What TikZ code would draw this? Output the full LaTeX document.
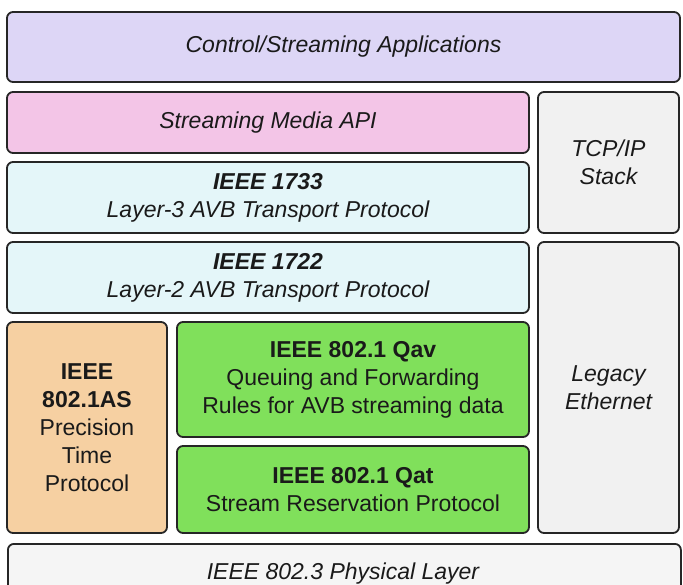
\documentclass[tikz,border=0pt]{standalone}
\usepackage{fontspec}
\setmainfont{Liberation Sans}
\definecolor{cLav}{HTML}{DDD6F6}
\definecolor{cPink}{HTML}{F3C5E7}
\definecolor{cBlue}{HTML}{E4F6F9}
\definecolor{cGrey}{HTML}{F1F1F1}
\definecolor{cOrange}{HTML}{F6D0A2}
\definecolor{cGreen}{HTML}{80E05B}
\definecolor{cLine}{HTML}{262626}
\definecolor{cText}{HTML}{1A1A1A}
\tikzset{
  layer/.style={draw=cLine, line width=1.8pt, rounded corners=6pt, align=center,
    text=cText, inner sep=0pt,
    font=\fontsize{23}{28}\selectfont},
}
\newcommand{\boxat}[7]{% name, x1, y1, x2, y2, fill, text
  \node[layer, fill=#6, minimum width={#4-#2}, minimum height={#5-#3}] (#1) at ({(#2+#4)/2},{(#3+#5)/2}) {#7};}
\begin{document}
\begin{tikzpicture}[x=1pt,y=-1pt]
\useasboundingbox (0,0) rectangle (683,584);
\clip (0,0) rectangle (683,584);
\boxat{apps}{7}{12}{680}{82}{cLav}{\itshape Control/Streaming Applications}
\boxat{api}{7}{92}{529}{153}{cPink}{\itshape Streaming Media API}
\boxat{tcp}{538}{92}{679}{233}{cGrey}{\itshape TCP/IP\\\itshape Stack}
\boxat{l3}{7}{162}{529}{233}{cBlue}{\bfseries\itshape IEEE 1733\\\itshape Layer-3 AVB Transport Protocol}
\boxat{l2}{7}{242}{529}{313}{cBlue}{\bfseries\itshape IEEE 1722\\\itshape Layer-2 AVB Transport Protocol}
\boxat{legacy}{538}{242}{679}{533}{cGrey}{\itshape Legacy\\\itshape Ethernet}
\boxat{ptp}{7}{322}{167}{533}{cOrange}{\bfseries IEEE\\\bfseries 802.1AS\\Precision\\Time\\Protocol}
\boxat{qav}{177}{322}{529}{437}{cGreen}{\bfseries IEEE 802.1 Qav\\Queuing and Forwarding\\Rules for AVB streaming data}
\boxat{qat}{177}{446}{529}{533}{cGreen}{\bfseries IEEE 802.1 Qat\\Stream Reservation Protocol}
\node[draw=cLine, line width=1.8pt, rounded corners=6pt, fill=cGrey!70!white,
  minimum width=673, minimum height=70, anchor=north west, inner sep=0pt] (phy) at (7,543) {};
\node[text=cText, font=\fontsize{23}{28}\selectfont\itshape] (phytext) at (343,574) {IEEE 802.3 Physical Layer};
\end{tikzpicture}
\end{document}
